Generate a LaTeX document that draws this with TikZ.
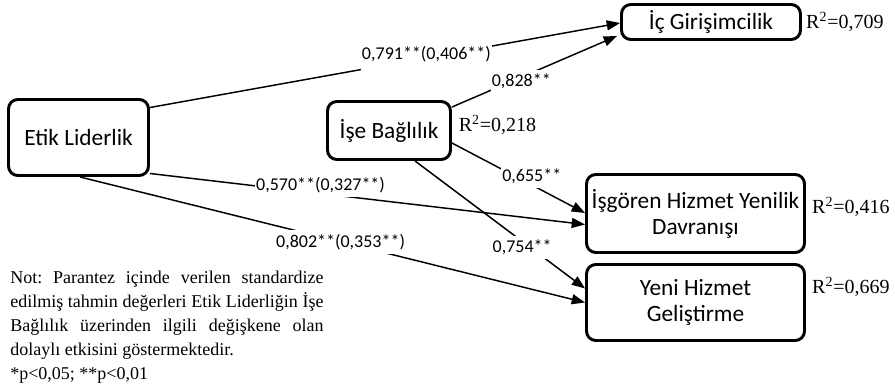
\documentclass[tikz,border=0pt]{standalone}
\usepackage{fontspec}
\setmainfont{Liberation Serif}
\newfontfamily\calibri{Carlito}
\usetikzlibrary{arrows.meta,positioning,calc}
\frenchspacing
\tikzstyle{block} = [rectangle, draw, line width=2.2pt, rounded corners=7pt,
    align=center, font=\calibri\fontsize{17.5}{19.5}\selectfont]
\tikzstyle{coef} = [fill=white, inner xsep=1pt, inner ysep=3pt,
    font=\calibri\fontsize{13.5}{15}\selectfont]
\tikzstyle{rsq} = [inner sep=0pt, font=\fontsize{15}{17}\selectfont]
\tikzstyle{link} = [draw, line width=1.1pt, -{Triangle[length=10pt,width=7.5pt]}]

\begin{document}
\begin{tikzpicture}[x=0.75pt,y=-0.75pt]
	\useasboundingbox (0,0) rectangle (895,387);
	% Place nodes
	\node [block, minimum width=105pt, minimum height=57pt] (etik) at (78.5,137.5) {Etik Liderlik};
	\node [block, minimum width=92.25pt, minimum height=43.5pt] (ise) at (389,130.5) {İşe Bağlılık};
	\node [block, minimum width=134.25pt, minimum height=26.25pt] (ic) at (711,22) {İç Girişimcilik};
	\node [block, minimum width=163.5pt, minimum height=58.5pt] (isgoren) at (695.5,213.5) {İşgören Hizmet Yenilik\\Davranışı};
	\node [block, minimum width=163.5pt, minimum height=57pt] (yeni) at (695.5,302.5) {Yeni Hizmet\\Geliştirme};
	
	% R^2 values
	\node [rsq, right=3pt of ic] (r1) {R\textsuperscript{2}=0,709};
	\node [rsq, right=5pt of ise, yshift=4pt] (r2) {R\textsuperscript{2}=0,218};
	\node [rsq, right=4.5pt of isgoren, yshift=5pt] (r3) {R\textsuperscript{2}=0,416};
	\node [rsq, right=4.5pt of yeni, yshift=11.5pt] (r4) {R\textsuperscript{2}=0,669};
	
	% Paths
	\draw [link] ($(etik.east)+(0,-30)$) -- node[coef, pos=0.588, anchor=base, yshift=-1pt, text depth=7.5pt] {0,791**(0,406**)} ($(ic.west)+(0,1)$);
	\draw [link] ($(ise.east)+(0,-23.5)$) -- node[coef, pos=0.42, yshift=-3pt] {0,828**} ($(ic.west)+(-3,14)$);
	\draw [link] ($(etik.east)+(0,36)$) -- node[coef, pos=0.392, yshift=6.5pt] {0,570**(0,327**)} ($(isgoren.west)+(0,11)$);
	\draw [link] ($(etik.south)+(1.5,0)$) -- node[coef, pos=0.516] {0,802**(0,353**)} ($(yeni.west)+(0,0)$);
	\draw [link] ($(ise.east)+(0,12.5)$) -- node[coef, pos=0.6, yshift=6.75pt] {0,655**} ($(isgoren.west)+(0,-0.5)$);
	\draw [link] ($(ise.south)+(26,0)$) -- node[coef, pos=0.63, yshift=-4.5pt] {0,754**} ($(yeni.west)+(0,-14)$);
	
	% Note
	\node [anchor=north west, inner sep=0pt, align=left, font=\fontsize{13.5}{18}\selectfont] (note) at (10,271)
	{\makebox[235pt][s]{Not: Parantez içinde verilen standardize}\\
	 \makebox[235pt][s]{edilmiş tahmin değerleri Etik Liderliğin İşe}\\
	 \makebox[235pt][s]{Bağlılık üzerinden ilgili değişkene olan}\\
	 dolaylı etkisini göstermektedir.\\
	 *p<0,05; **p<0,01};
\end{tikzpicture}
\end{document}
